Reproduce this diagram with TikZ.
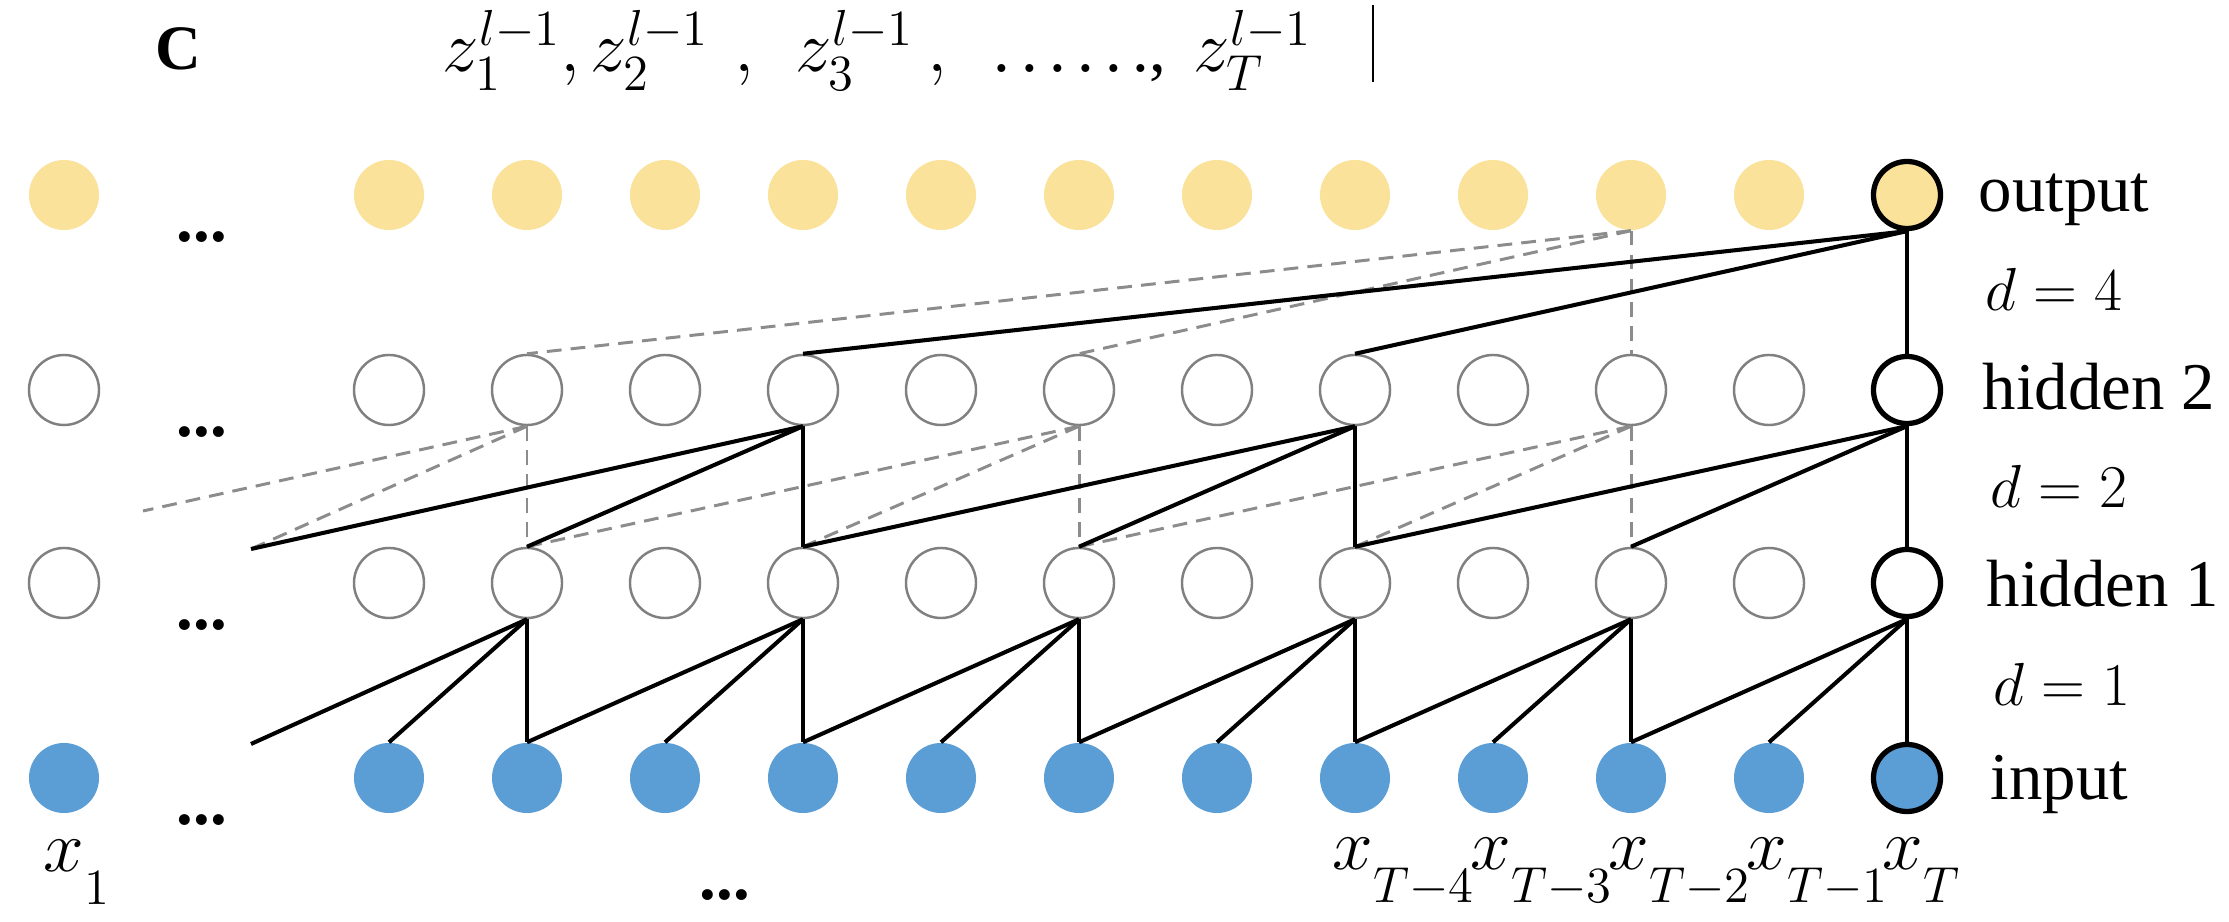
\documentclass[tikz,border=0pt]{standalone}
\usepackage{fontspec}
\setmainfont{Liberation Serif}
\usetikzlibrary{positioning}

\definecolor{outyellow}{RGB}{250,226,154}
\definecolor{inblue}{RGB}{91,157,213}
\definecolor{ringgray}{RGB}{128,128,128}
\definecolor{rfgray}{RGB}{140,140,140}

\newcommand{\xlab}[1]{$x_{\raisebox{-6pt}{$\scriptstyle #1$}}$}

\begin{document}
\begin{tikzpicture}[
    x=0.01cm, y=-0.01cm,
    unit/.style={circle, minimum size=0.70cm, inner sep=0pt},
    onode/.style={unit, fill=outyellow},
    hnode/.style={unit, draw=ringgray, line width=0.7pt, fill=white},
    inode/.style={unit, fill=inblue},
    lastnode/.style={draw=black, line width=1.5pt, minimum size=0.67cm},
    conn/.style={black, line width=1.15pt},
    rfield/.style={rfgray, line width=0.85pt, dash pattern=on 4.2pt off 2.6pt},
    lbl/.style={anchor=base west, inner sep=0pt, font=\fontsize{19}{23}\selectfont},
    mlbl/.style={anchor=base west, inner sep=0pt, font=\fontsize{20}{24}\selectfont},
    ddd/.style={inner sep=0pt, font=\fontsize{19}{23}\selectfont\bfseries}
]
\useasboundingbox (0,0) rectangle (2229,922);

% first column (x_1)
\node[onode] (outF) at (64,195) {};
\node[hnode] (hidBF) at (64,390) {};
\node[hnode] (hidAF) at (64,583) {};
\node[inode] (inpF) at (64,778) {};

% columns up to x_{T-1}
\foreach \k in {1,...,11} {
  \node[onode] (out\k) at ({389+138*(\k-1)},195) {};
  \node[hnode] (hidB\k) at ({389+138*(\k-1)},390) {};
  \node[hnode] (hidA\k) at ({389+138*(\k-1)},583) {};
  \node[inode] (inp\k) at ({389+138*(\k-1)},778) {};
}

% last column x_T
\node[onode, lastnode] (out12) at (1907,195) {};
\node[hnode, lastnode] (hidB12) at (1907,390) {};
\node[hnode, lastnode] (hidA12) at (1907,583) {};
\node[inode, lastnode] (inp12) at (1907,778) {};

% ends that run into the gap
\coordinate (stubA) at (251,549);
\coordinate (stubI) at (251,744);
\coordinate (stubR) at (143,511);

% receptive field of x_{T-2}
\draw[rfield] (out10.south) -- (hidB10.north);
\draw[rfield] (out10.south) -- (hidB6.north);
\draw[rfield] (out10.south) -- (hidB2.north);
\foreach \k in {6,10} {
  \pgfmathtruncatemacro{\ka}{\k-2}
  \pgfmathtruncatemacro{\kb}{\k-4}
  \draw[rfield] (hidB\k.south) -- (hidA\k.north);
  \draw[rfield] (hidB\k.south) -- (hidA\ka.north);
  \draw[rfield] (hidB\k.south) -- (hidA\kb.north);
}
\draw[rfield] (hidB2.south) -- (hidA2.north);
\draw[rfield] (hidB2.south) -- (stubA);
\draw[rfield] (hidB2.south) -- (stubR);

% d = 1
\foreach \k in {4,6,...,12} {
  \pgfmathtruncatemacro{\ka}{\k-1}
  \pgfmathtruncatemacro{\kb}{\k-2}
  \draw[conn] (inp\k.north) -- (hidA\k.south);
  \draw[conn] (inp\ka.north) -- (hidA\k.south);
  \draw[conn] (inp\kb.north) -- (hidA\k.south);
}
\draw[conn] (inp2.north) -- (hidA2.south);
\draw[conn] (inp1.north) -- (hidA2.south);
\draw[conn] (stubI) -- (hidA2.south);

% d = 2
\foreach \k in {8,12} {
  \pgfmathtruncatemacro{\ka}{\k-2}
  \pgfmathtruncatemacro{\kb}{\k-4}
  \draw[conn] (hidA\k.north) -- (hidB\k.south);
  \draw[conn] (hidA\ka.north) -- (hidB\k.south);
  \draw[conn] (hidA\kb.north) -- (hidB\k.south);
}
\draw[conn] (hidA4.north) -- (hidB4.south);
\draw[conn] (hidA2.north) -- (hidB4.south);
\draw[conn] (stubA) -- (hidB4.south);

% d = 4
\draw[conn] (hidB12.north) -- (out12.south);
\draw[conn] (hidB8.north) -- (out12.south);
\draw[conn] (hidB4.north) -- (out12.south);

% gaps
\foreach \y/\n in {237/o, 432/b, 625/a, 820/i}
  \node[ddd] (gap\n) at (202,\y) {...};
\node[ddd] (gapx) at (725,895) {...};

% layer labels
\node[lbl] (lblout) at (1978,212) {output};
\node[lbl] (lbld4) at (1985,311) {$d = 4$};
\node[lbl] (lblh2) at (1982,410) {hidden 2};
\node[lbl] (lbld2) at (1990,508) {$d = 2$};
\node[lbl] (lblh1) at (1986,607) {hidden 1};
\node[lbl] (lbld1) at (1993,706) {$d = 1$};
\node[lbl] (lblin) at (1990,800) {input};

% inputs
\node[mlbl] (x1) at (43,872) {\xlab{1}};
\node[mlbl] (xT4) at (1332,870) {\xlab{T-4}};
\node[mlbl] (xT3) at (1470,870) {\xlab{T-3}};
\node[mlbl] (xT2) at (1608,870) {\xlab{T-2}};
\node[mlbl] (xT1) at (1746,870) {\xlab{T-1}};
\node[mlbl] (xT) at (1882,870) {\xlab{T}};

% header
\node[lbl, font=\fontsize{18}{22}\selectfont\bfseries] (panel) at (155,70) {C};
\node[mlbl] (z1) at (442,72) {$z_1^{l-1},$};
\node[mlbl] (z2) at (590,72) {$z_2^{l-1}$};
\node[mlbl] (c2) at (734,72) {$,$};
\node[mlbl] (z3) at (795,72) {$z_3^{l-1}$};
\node[mlbl] (c3) at (927,72) {$,$};
\node[lbl] (zdots) at (993,72) {.\,.\,.\,.\,.\,.,};
\node[mlbl] (zT) at (1193,72) {$z_T^{l-1}$};
\draw[line width=0.8pt] (1373,5) -- (1373,82);

\end{tikzpicture}
\end{document}
